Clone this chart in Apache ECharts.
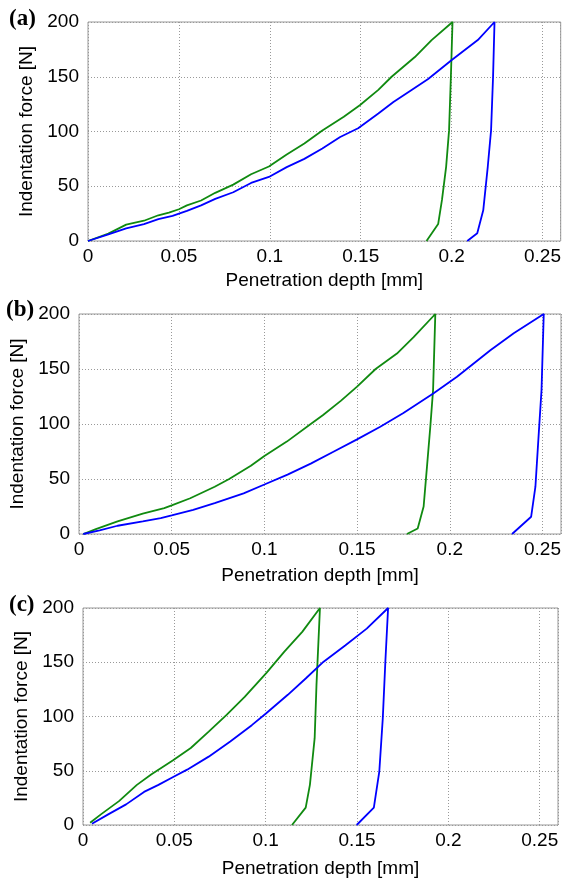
<!DOCTYPE html>
<html>
<head>
<meta charset="utf-8">
<script src="https://cdn.jsdelivr.net/npm/echarts@6/dist/echarts.min.js"></script>
<style>
  html, body { margin: 0; padding: 0; background: #fff; }
  #main { width: 564px; height: 882px; }
</style>
</head>
<body>
<div id="main"></div>
<script>
// tick values
let xTicks = [0, 0.05, 0.1, 0.15, 0.2, 0.25];
let yTicks = [0, 50, 100, 150, 200];
let panelLabels = ['(a)', '(b)', '(c)'];

// [depth mm, force N] : loading then unloading
let aGreen = [[0, 0], [0.0112, 6.7], [0.021, 15], [0.0308, 18.5], [0.0387, 23.5], [0.0445, 26], [0.05, 29],
    [0.0544, 32.5], [0.0622, 37], [0.07, 44], [0.0799, 51.5], [0.0897, 61], [0.0995, 68], [0.1093, 79],
    [0.119, 89], [0.1289, 101], [0.1407, 113.5], [0.1495, 124], [0.1597, 138], [0.167, 150], [0.1798, 168],
    [0.189, 183.5], [0.2005, 200],
    [0.1996, 150], [0.1986, 101], [0.197, 68], [0.1947, 37.5], [0.1926, 15.5], [0.1862, 0]];
let aBlue = [[0, 0], [0.0112, 6], [0.021, 11.5], [0.0308, 15.5], [0.0387, 20], [0.0465, 23], [0.0544, 27.5],
    [0.0622, 32.5], [0.07, 38.5], [0.0799, 44.5], [0.0897, 53], [0.0995, 58.5], [0.1093, 67.5], [0.119, 75],
    [0.1289, 84.5], [0.1387, 95], [0.1486, 103], [0.1597, 116.5], [0.168, 127], [0.178, 138], [0.1871, 148],
    [0.1999, 165], [0.2144, 183.5], [0.2236, 200],
    [0.2228, 150], [0.2217, 101], [0.2199, 68], [0.2174, 28], [0.2141, 7], [0.2086, 0]];

let bGreen = [[0.0023, 0], [0.0091, 4.5], [0.0208, 11.5], [0.0344, 18.5], [0.046, 23.5], [0.05, 26],
    [0.06, 32.5], [0.0732, 43], [0.081, 50], [0.0927, 62], [0.1, 71], [0.1121, 84], [0.125, 100],
    [0.1315, 108], [0.1412, 121], [0.15, 134], [0.16, 150], [0.1715, 164], [0.1805, 179], [0.1922, 200],
    [0.191, 131], [0.1895, 97.5], [0.1877, 61], [0.1859, 25], [0.1827, 5], [0.1769, 0]];
let bBlue = [[0.0023, 0], [0.0111, 3.3], [0.0208, 7.5], [0.0344, 11.5], [0.0441, 14.5], [0.05, 17],
    [0.0616, 22], [0.0732, 28], [0.0888, 37], [0.1, 45], [0.1125, 54], [0.125, 64], [0.1375, 75],
    [0.15, 86], [0.1625, 97.5], [0.175, 110], [0.1913, 128], [0.2039, 143], [0.2219, 167], [0.2345, 182.5],
    [0.2507, 200],
    [0.2495, 131], [0.248, 91.5], [0.2462, 43], [0.2439, 15.7], [0.2336, 0]];

let cGreen = [[0.0039, 2], [0.0098, 9.8], [0.0197, 22], [0.0295, 37], [0.0373, 46.5], [0.0491, 59.5],
    [0.059, 71], [0.0688, 86], [0.0786, 101.5], [0.0885, 118], [0.1003, 140], [0.1101, 159.5], [0.12, 178],
    [0.1297, 200],
    [0.1278, 129], [0.1268, 80], [0.1242, 37], [0.1219, 16], [0.1144, 0]];
let cBlue = [[0.0049, 1.2], [0.0138, 9.8], [0.0236, 19], [0.0334, 30.5], [0.0413, 37], [0.0491, 44],
    [0.057, 51], [0.0688, 63], [0.0806, 77], [0.0924, 92], [0.1003, 103], [0.1121, 120], [0.1219, 135],
    [0.1317, 150.5], [0.1435, 165.5], [0.1553, 181], [0.167, 200],
    [0.1655, 150.5], [0.1641, 98.5], [0.1622, 49.5], [0.1592, 16], [0.1498, 0]];

let curves = [[aGreen, aBlue], [bGreen, bBlue], [cGreen, cBlue]];

// layout of the three panels
let grids = [
    {left: 88, top: 22, width: 475, height: 219},
    {left: 79, top: 314, width: 482, height: 220},
    {left: 83, top: 608, width: 475, height: 217}
];
let yNameGaps = [50, 46, 51];
let xNameGaps = [30, 32, 34];
let labelTops = [8, 299, 594];
let labelLefts = [9, 6, 9];

let font = 'Liberation Sans, Arial, sans-serif';
let gridLine = {show: true, lineStyle: {color: '#999', type: [1, 2], width: 1}};

let option = {
    animation: false,
    backgroundColor: '#fff',
    title: [],
    grid: [],
    xAxis: [],
    yAxis: [],
    series: []
};

for (let i = 0; i < 3; i++) {
    option.title.push({
        text: panelLabels[i],
        left: labelLefts[i],
        top: labelTops[i],
        padding: 0,
        textStyle: {fontFamily: 'Liberation Serif, serif', fontWeight: 'bold', fontSize: 23, color: '#000'}
    });
    option.grid.push(Object.assign({show: true, borderColor: '#999', borderWidth: 1}, grids[i]));
    option.xAxis.push({
        type: 'value', gridIndex: i, min: 0, max: 0.26, interval: 0.05,
        name: 'Penetration depth [mm]', nameLocation: 'middle', nameGap: xNameGaps[i],
        nameTextStyle: {fontFamily: font, fontSize: 19, color: '#000'},
        axisLine: {show: false}, axisTick: {show: false},
        axisLabel: {
            fontFamily: font, fontSize: 19, color: '#000', margin: 6, showMaxLabel: false,
            formatter: function (v) {
                let t = xTicks.find(function (x) { return Math.abs(x - v) < 1e-9; });
                return t === undefined ? '' : String(t);
            }
        },
        splitLine: gridLine
    });
    option.yAxis.push({
        type: 'value', gridIndex: i, min: 0, max: 200, interval: 50,
        name: 'Indentation force [N]', nameLocation: 'middle', nameGap: yNameGaps[i],
        nameTextStyle: {fontFamily: font, fontSize: 19, color: '#000'},
        axisLine: {show: false}, axisTick: {show: false},
        axisLabel: {
            fontFamily: font, fontSize: 19, color: '#000', margin: 9,
            formatter: function (v) { return yTicks.indexOf(v) >= 0 ? String(v) : ''; }
        },
        splitLine: gridLine
    });
    let colors = ['#108a10', '#0000ff'];
    for (let k = 0; k < 2; k++) {
        option.series.push({
            type: 'line', xAxisIndex: i, yAxisIndex: i,
            data: curves[i][k], showSymbol: false, silent: true,
            lineStyle: {color: colors[k], width: 1.8},
            itemStyle: {color: colors[k]}
        });
    }
}

let chart = echarts.init(document.getElementById('main'));
chart.setOption(option);
</script>
</body>
</html>
